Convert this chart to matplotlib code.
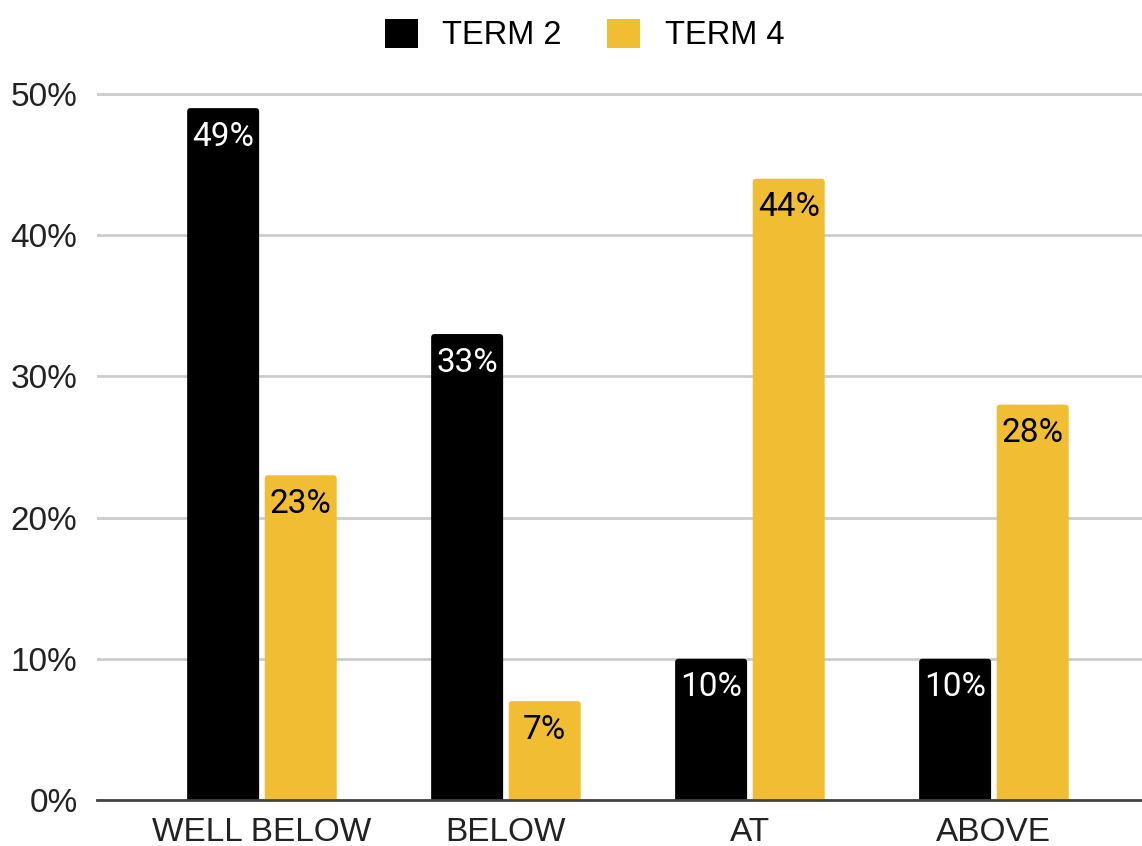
import matplotlib
matplotlib.use('Agg')
import matplotlib.pyplot as plt
from matplotlib.patches import FancyBboxPatch, Patch
import numpy as np

categories = ['WELL BELOW', 'BELOW', 'AT', 'ABOVE']
term2 = [49, 33, 10, 10]
term4 = [23, 7, 44, 28]
series_names = ['TERM 2', 'TERM 4']
yticks = [0, 10, 20, 30, 40, 50]

BLACK = '#000000'
YELLOW = '#F0BD33'

W, H = 1142, 846
fig = plt.figure(figsize=(W / 100, H / 100), dpi=100)

# axes placed in pixels: x from 97 to 1142, baseline at 800, 14.12 px per percent
px_per_pct = 14.12
ytop = 52
ax = fig.add_axes([97 / W, 46 / H, 1 - 97 / W, ytop * px_per_pct / H])
ax.set_xlim(-0.676, 3.607)
ax.set_ylim(0, ytop)

x = np.arange(len(categories))
width = 0.295
offset = 0.159

# x units per px vs y units per px, for rounded corners
aspect = (1 / px_per_pct) / (1 / 244.0)
rsize = 3.5 / 244.0


def rounded_bars(xs, vals, color, label_color):
    for xi, v in zip(xs, vals):
        p = FancyBboxPatch((xi - width / 2, -2), width, v + 2,
                           boxstyle='round,pad=0,rounding_size=%f' % rsize,
                           mutation_aspect=aspect, facecolor=color,
                           edgecolor='none', zorder=3)
        ax.add_patch(p)
        ax.annotate('%d%%' % v, (xi, v), xytext=(0, -9),
                    textcoords='offset points', ha='center', va='top',
                    fontsize=24, color=label_color, family='Roboto', zorder=4)


rounded_bars(x - offset, term2, BLACK, 'white')
rounded_bars(x + offset, term4, YELLOW, 'black')

ax.set_yticks(yticks)
ax.set_yticklabels(['%d%%' % t for t in yticks], fontsize=24,
                   family='Liberation Sans', color='#222222')
ax.set_xticks(x)
ax.set_xticklabels(categories, fontsize=24, family='Liberation Sans',
                   color='#222222')
ax.tick_params(axis='both', length=0)
ax.tick_params(axis='y', pad=14)
ax.tick_params(axis='x', pad=12)

ax.grid(axis='y', color='#cccccc', linewidth=2, zorder=0)
for s in ['top', 'right', 'left']:
    ax.spines[s].set_visible(False)
ax.spines['bottom'].set_color('#444444')
ax.spines['bottom'].set_linewidth(2)
ax.spines['bottom'].set_zorder(5)

handles = [Patch(facecolor=BLACK, edgecolor='none'),
           Patch(facecolor=YELLOW, edgecolor='none')]
leg = fig.legend(handles, series_names, loc='upper center',
                 bbox_to_anchor=(0.512, 1.005), ncol=2, frameon=False,
                 prop={'family': 'Liberation Sans', 'size': 23.5},
                 handlelength=1.0, handleheight=1.0, handletextpad=0.75,
                 columnspacing=1.4, borderaxespad=0.3)

fig.savefig('out.png', dpi=100)
